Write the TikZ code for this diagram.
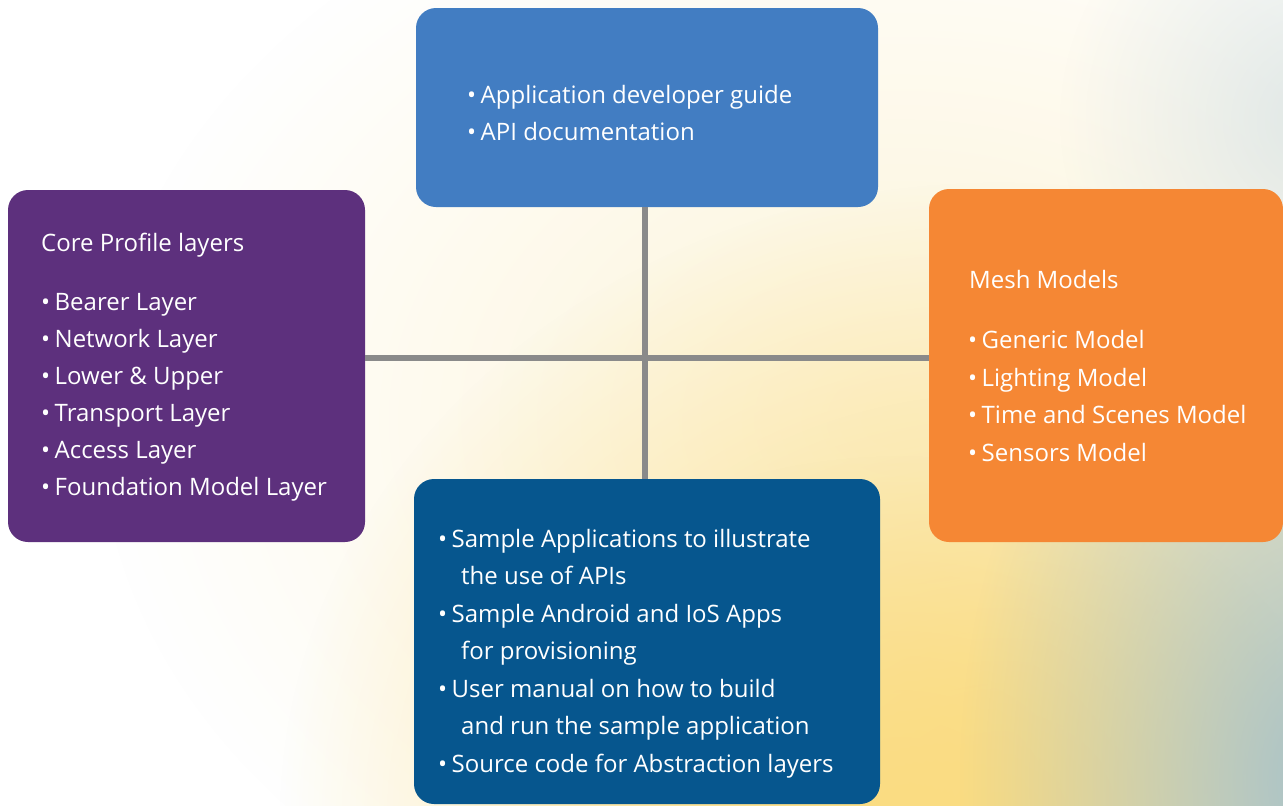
\documentclass[tikz,border=0pt]{standalone}
\usepackage{fontspec}
\setmainfont{Open Sans}
\usetikzlibrary{fadings}
\tikzfading[name=myglow, inner color=transparent!0, outer color=transparent!100]
\definecolor{topblue}{RGB}{66,125,194}
\definecolor{corepurple}{RGB}{93,48,125}
\definecolor{meshorange}{RGB}{245,135,52}
\definecolor{sdkblue}{RGB}{6,86,142}
\definecolor{conngray}{RGB}{138,138,138}
\definecolor{glowyellow}{RGB}{250,220,130}
\definecolor{glowteal}{RGB}{168,194,200}
\definecolor{glowcream}{RGB}{253,244,215}
\newcommand\bul{\makebox[13.5pt][l]{•}}
\begin{document}
\begin{tikzpicture}[x=1pt,y=-1pt,
  box/.style={rectangle, rounded corners=20pt, draw=none, inner sep=0pt},
  txt/.style={anchor=base west, inner sep=0pt, text=white, font=\fontsize{24}{28}\selectfont},
  conn/.style={draw=conngray, line width=6pt}]
\useasboundingbox (0,0) rectangle (1283,806);
% background
\fill[white] (0,0) rectangle (1283,806);
\begin{scope}
\clip (0,0) rectangle (1283,806);
\fill[glowcream, path fading=myglow] (900,420) ellipse [x radius=800, y radius=600];
\fill[glowyellow, path fading=myglow] (1000,820) ellipse [x radius=720, y radius=640];
\fill[glowyellow, path fading=myglow] (900,806) ellipse [x radius=450, y radius=350];
\fill[glowteal, path fading=myglow] (1320,780) ellipse [x radius=360, y radius=560];
\fill[glowteal!60!white, opacity=0.6, path fading=myglow] (1320,120) ellipse [x radius=260, y radius=260];
\end{scope}
% boxes
\node[box, fill=topblue, minimum width=462pt, minimum height=199pt] (api) at (647,107.5) {};
\node[box, fill=corepurple, minimum width=357pt, minimum height=352pt] (core) at (186.5,366) {};
\node[box, fill=meshorange, minimum width=354pt, minimum height=353pt] (mesh) at (1106,365.5) {};
\node[box, fill=sdkblue, minimum width=466pt, minimum height=325pt] (sdk) at (647,641.5) {};
% connectors
\coordinate (hub) at (645,358);
\draw[conn] (api.south -| hub) -- (sdk.north -| hub);
\draw[conn] (core.east |- hub) -- (mesh.west |- hub);
% top box text
\node[txt] (a1) at (467,103) {\bul Application developer guide};
\node[txt] (a2) at (467,140) {\bul API documentation};
% left box text
\node[txt] (c0) at (41,251) {Core Profile layers};
\node[txt] (c1) at (41,310) {\bul Bearer Layer};
\node[txt] (c2) at (41,347) {\bul Network Layer};
\node[txt] (c3) at (41,384) {\bul Lower \& Upper};
\node[txt] (c4) at (41,421) {\bul Transport Layer};
\node[txt] (c5) at (41,458) {\bul Access Layer};
\node[txt] (c6) at (41,495.5) {\bul Foundation Model Layer};
% right box text
\node[txt] (m0) at (969,288) {Mesh Models};
\node[txt] (m1) at (968,348.5) {\bul Generic Model};
\node[txt] (m2) at (968,386) {\bul Lighting Model};
\node[txt] (m3) at (968,423.5) {\bul Time and Scenes Model};
\node[txt] (m4) at (968,461) {\bul Sensors Model};
% bottom box text
\node[txt] (s1) at (438,547) {\bul Sample Applications to illustrate};
\node[txt] (s2) at (461,584.5) {the use of APIs};
\node[txt] (s3) at (438,622) {\bul Sample Android and IoS Apps};
\node[txt] (s4) at (461,659.5) {for provisioning};
\node[txt] (s5) at (438,697) {\bul User manual on how to build};
\node[txt] (s6) at (461,734.5) {and run the sample application};
\node[txt] (s7) at (438,772) {\bul Source code for Abstraction layers};
\end{tikzpicture}
\end{document}
